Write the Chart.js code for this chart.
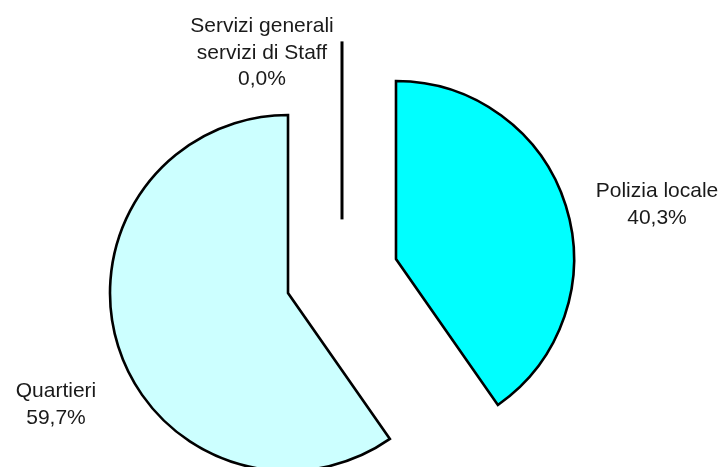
<!DOCTYPE html>
<html>
<head>
<meta charset="utf-8">
<script src="https://cdn.jsdelivr.net/npm/chart.js@4.4.1/dist/chart.umd.min.js"></script>
<style>
  html, body { margin: 0; padding: 0; background: #fff; }
  #wrap { width: 727px; height: 467px; }
</style>
</head>
<body>
<div id="wrap"><canvas id="c" width="727" height="467"></canvas></div>
<script>
// ---- data ----
const categories = ["Servizi generali\nservizi di Staff", "Polizia locale", "Quartieri"];
const values = [0.0, 40.3, 59.7];
const valueLabels = ["0,0%", "40,3%", "59,7%"];
const colors = ["#FFFFFF", "#00FFFF", "#CCFFFF"];

// ---- layout / style constants ----
const EXPLODE = 56.6;
const FONT = '21px "Liberation Sans", Arial, Helvetica, sans-serif';
const LINE_H = 26.5;
// label anchor (center x, first baseline y) for each category
const labelAnchors = [
  { x: 262, y: 32 },
  { x: 657, y: 197 },
  { x: 56, y: 397 }
];

const explodePlugin = {
  id: 'explode',
  afterDatasetUpdate(chart, args) {
    const meta = args.meta;
    meta.data.forEach(el => {
      const half = (el.startAngle + el.endAngle) / 2;
      el.x += Math.cos(half) * EXPLODE;
      el.y += Math.sin(half) * EXPLODE;
    });
  },
  afterDatasetDraw(chart, args) {
    const ctx = chart.ctx;
    const meta = args.meta;
    meta.data.forEach(el => {
      if (el.circumference === 0) {
        ctx.save();
        ctx.strokeStyle = '#000';
        ctx.lineWidth = 3;
        ctx.beginPath();
        ctx.moveTo(el.x, el.y);
        ctx.lineTo(el.x + Math.cos(el.startAngle) * el.outerRadius,
                   el.y + Math.sin(el.startAngle) * el.outerRadius);
        ctx.stroke();
        ctx.restore();
      }
    });
  },
  afterDraw(chart) {
    const ctx = chart.ctx;
    ctx.save();
    ctx.font = FONT;
    ctx.fillStyle = '#1a1a1a';
    ctx.textAlign = 'center';
    ctx.textBaseline = 'alphabetic';
    categories.forEach((cat, i) => {
      const lines = cat.split('\n').concat([valueLabels[i]]);
      const a = labelAnchors[i];
      lines.forEach((ln, j) => ctx.fillText(ln, a.x, a.y + j * LINE_H));
    });
    ctx.restore();
  }
};

new Chart(document.getElementById('c'), {
  type: 'pie',
  data: {
    labels: categories,
    datasets: [{
      data: values,
      backgroundColor: colors,
      borderColor: '#000',
      borderWidth: 2.6,
      borderJoinStyle: 'miter',
      radius: 178
    }]
  },
  options: {
    responsive: false,
    animation: false,
    layout: { padding: { left: 0, right: 43, top: 85, bottom: 0 } },
    plugins: {
      legend: { display: false },
      tooltip: { enabled: false }
    }
  },
  plugins: [explodePlugin]
});
</script>
</body>
</html>
